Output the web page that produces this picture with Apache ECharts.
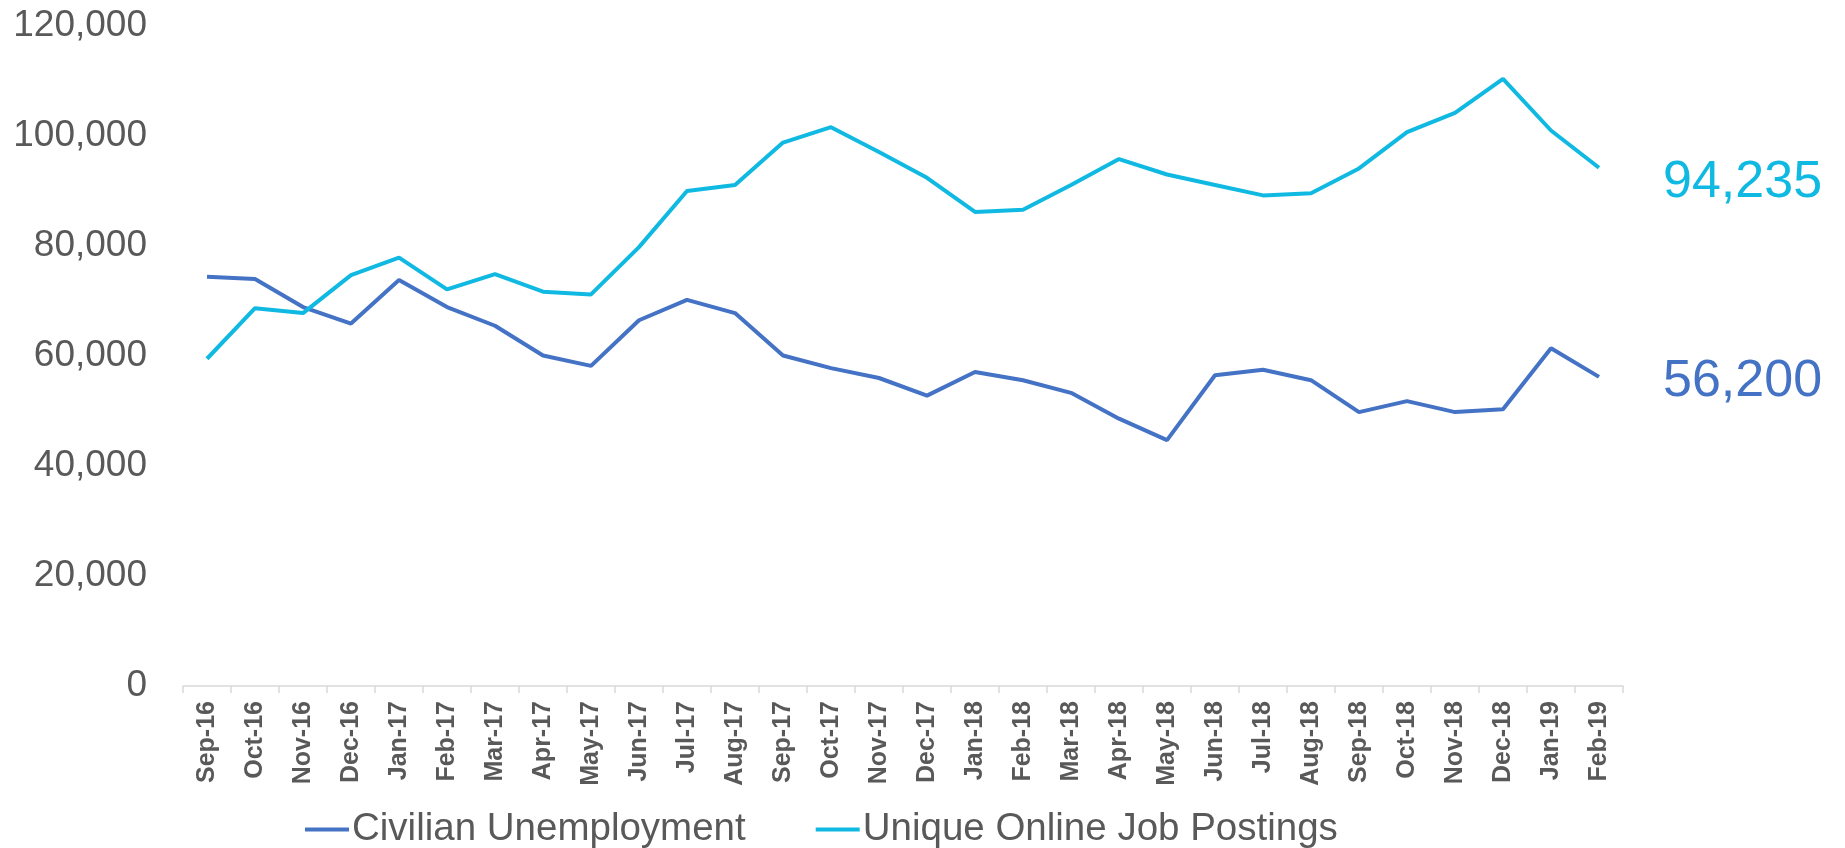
<!DOCTYPE html>
<html>
<head>
<meta charset="utf-8">
<script src="https://cdn.jsdelivr.net/npm/echarts@6/dist/echarts.min.js"></script>
<style>
  html, body { margin: 0; padding: 0; background: #ffffff; }
  #chart { width: 1845px; height: 848px; }
</style>
</head>
<body>
<div id="chart"></div>
<script>
const categories = ['Sep-16','Oct-16','Nov-16','Dec-16','Jan-17','Feb-17','Mar-17','Apr-17','May-17','Jun-17','Jul-17','Aug-17','Sep-17','Oct-17','Nov-17','Dec-17','Jan-18','Feb-18','Mar-18','Apr-18','May-18','Jun-18','Jul-18','Aug-18','Sep-18','Oct-18','Nov-18','Dec-18','Jan-19','Feb-19'];

const civilianUnemployment = [74400, 74000, 68900, 65900, 73800, 68900, 65500, 60100, 58200, 66500, 70200, 67800, 60100, 57800, 56000, 52800, 57100, 55600, 53300, 48600, 44700, 56500, 57500, 55600, 49800, 51800, 49800, 50300, 61400, 56200];

const uniqueOnlineJobPostings = [59500, 68700, 67800, 74700, 77900, 72100, 74900, 71700, 71200, 79800, 90000, 91100, 98800, 101600, 97100, 92400, 86200, 86600, 91100, 95800, 93000, 91100, 89200, 89600, 94100, 100700, 104200, 110400, 101000, 94235];

const yTicks = { min: 0, max: 120000, interval: 20000 };

const colorUnemp = '#4472C4';
const colorPost = '#10B9E1';

const chart = echarts.init(document.getElementById('chart'), null, { renderer: 'canvas' });
chart.setOption({
  backgroundColor: '#ffffff',
  animation: false,
  grid: { left: 183, right: 222, top: 26, bottom: 162, containLabel: false },
  legend: {
    left: 300,
    top: 805,
    itemWidth: 44,
    itemHeight: 4,
    itemGap: 70,
    icon: 'rect',
    textStyle: { fontFamily: 'Liberation Sans', fontSize: 38.5, color: '#595959', padding: [0, 0, 0, -2] },
    data: [
      { name: 'Civilian Unemployment', itemStyle: { color: colorUnemp } },
      { name: 'Unique Online Job Postings', itemStyle: { color: colorPost } }
    ]
  },
  xAxis: {
    type: 'category',
    data: categories,
    boundaryGap: true,
    axisLine: { show: true, lineStyle: { color: '#D9D9D9', width: 1.5 } },
    axisTick: { show: true, alignWithLabel: false, length: 7, lineStyle: { color: '#D9D9D9', width: 1.5 } },
    axisLabel: {
      rotate: 90,
      interval: 0,
      margin: 15,
      fontFamily: 'Liberation Sans',
      fontWeight: 'bold',
      fontSize: 25,
      color: '#595959'
    }
  },
  yAxis: {
    type: 'value',
    min: yTicks.min,
    max: yTicks.max,
    interval: yTicks.interval,
    axisLine: { show: false },
    axisTick: { show: false },
    splitLine: { show: false },
    axisLabel: {
      margin: 36,
      fontFamily: 'Liberation Sans',
      fontSize: 37,
      color: '#595959',
      formatter: function (v) { return v.toLocaleString('en-US'); }
    }
  },
  series: [
    {
      name: 'Civilian Unemployment',
      type: 'line',
      data: civilianUnemployment,
      symbol: 'none',
      lineStyle: { color: colorUnemp, width: 4 },
      itemStyle: { color: colorUnemp },
      endLabel: {
        show: true,
        distance: 64,
        offset: [0, 5],
        fontFamily: 'Liberation Sans',
        fontSize: 52,
        color: colorUnemp,
        formatter: function (p) { return p.value.toLocaleString('en-US'); }
      }
    },
    {
      name: 'Unique Online Job Postings',
      type: 'line',
      data: uniqueOnlineJobPostings,
      symbol: 'none',
      lineStyle: { color: colorPost, width: 4 },
      itemStyle: { color: colorPost },
      endLabel: {
        show: true,
        distance: 64,
        offset: [0, 15],
        fontFamily: 'Liberation Sans',
        fontSize: 52,
        color: colorPost,
        formatter: function (p) { return p.value.toLocaleString('en-US'); }
      }
    }
  ]
});
</script>
</body>
</html>
